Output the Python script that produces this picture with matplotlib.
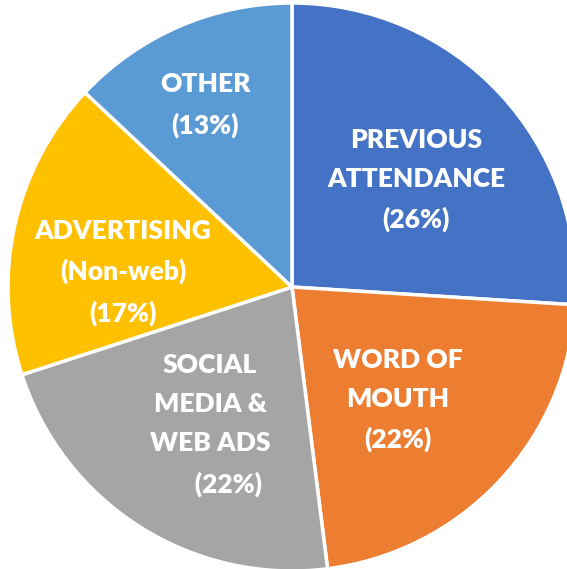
import numpy as np
import matplotlib.pyplot as plt

# data
labels = ["PREVIOUS\nATTENDANCE\n(26%)", "WORD OF\nMOUTH\n(22%)",
          "SOCIAL\nMEDIA &\nWEB ADS\n      (22%)", "ADVERTISING\n(Non-web)\n(17%)",
          "OTHER\n(13%)"]
shares = [26, 22, 22, 17, 13]
colors = ["#4472C4", "#ED7D31", "#A5A5A5", "#FFC000", "#5B9BD5"]

# label placement: (radius, angle shift in deg) relative to wedge middle
label_pos = [(0.577, -2.4), (0.545, -3.6), (0.565, 1.7), (0.597, 7.6), (0.71, 2.1)]

fig = plt.figure(figsize=(5.67, 5.69), dpi=100)
ax = fig.add_axes([0, 0, 1, 1])

wedges, _ = ax.pie(shares, colors=colors, startangle=90, counterclock=False,
                   wedgeprops=dict(edgecolor="white", linewidth=2.5))

for w, lab, (r, da) in zip(wedges, labels, label_pos):
    mid = np.deg2rad((w.theta1 + w.theta2) / 2 + da)
    ax.text(r * np.cos(mid), r * np.sin(mid), lab, ha="center", va="center",
            color="white", fontsize=19, fontweight="heavy", family="Lato",
            linespacing=1.75, multialignment="center")

# pie centre at (292, 287) px, radius 284 px
s = 284.0
ax.set_aspect("auto")
ax.set_xlim(-292 / s, (567 - 292) / s)
ax.set_ylim(-(569 - 287) / s, 287 / s)
ax.axis("off")

fig.savefig("out.png", dpi=100)
